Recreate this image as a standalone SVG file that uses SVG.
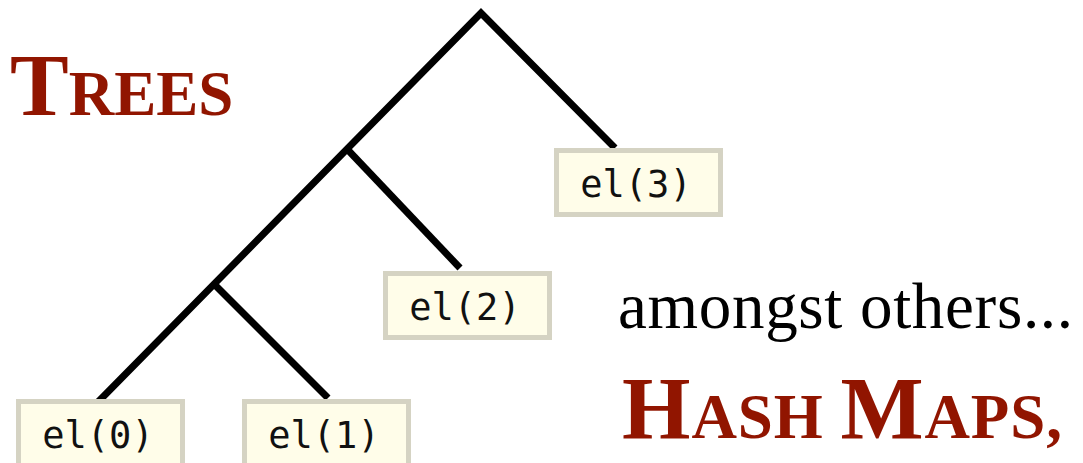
<svg xmlns="http://www.w3.org/2000/svg" width="1083" height="463" viewBox="0 0 1083 463">
  <style>
    .title { font-family: "Liberation Serif", "Times New Roman", serif; font-weight: bold; fill: #911500; }
    .big { font-size: 88px; }
    .sc { font-size: 63px; }
    .box { fill: #fffde9; stroke: #d5d3c3; stroke-width: 5; }
    .lbl { font-family: "DejaVu Sans Mono", "Liberation Mono", monospace; font-size: 37px; fill: #111; text-anchor: middle; }
    .edge { fill: none; stroke: #000; stroke-width: 7; stroke-linejoin: miter; stroke-linecap: butt; }
    .plain { font-family: "Liberation Serif", "Times New Roman", serif; font-size: 65px; fill: #000; }
  </style>
  <rect width="1083" height="463" fill="#ffffff"/>
  <g id="title-trees">
    <text class="title" x="10" y="115"><tspan class="big">T</tspan><tspan class="sc">REES</tspan></text>
  </g>
  <g id="connectors">
    <polyline class="edge" points="97,403 481,13 615,148"/>
    <line class="edge" x1="347" y1="149" x2="460" y2="268"/>
    <line class="edge" x1="214" y1="284" x2="328" y2="398"/>
  </g>
  <g id="node-el3">
    <rect class="box" x="556.5" y="150.5" width="164" height="64"/>
    <text class="lbl" x="636" y="197">el(3)</text>
  </g>
  <g id="node-el2">
    <rect class="box" x="385.5" y="273.5" width="164" height="64"/>
    <text class="lbl" x="465" y="320">el(2)</text>
  </g>
  <g id="node-el0">
    <rect class="box" x="18.5" y="401.5" width="164" height="64"/>
    <text class="lbl" x="98" y="448">el(0)</text>
  </g>
  <g id="node-el1">
    <rect class="box" x="244.5" y="401.5" width="164" height="64"/>
    <text class="lbl" x="324" y="448">el(1)</text>
  </g>
  <g id="text-amongst">
    <text class="plain" x="618" y="328" textLength="455" lengthAdjust="spacing">amongst others...</text>
  </g>
  <g id="title-hashmaps">
    <text class="title" x="622" y="438" textLength="440" lengthAdjust="spacing"><tspan class="big">H</tspan><tspan class="sc">ASH </tspan><tspan class="big">M</tspan><tspan class="sc">APS,</tspan></text>
  </g>
</svg>
